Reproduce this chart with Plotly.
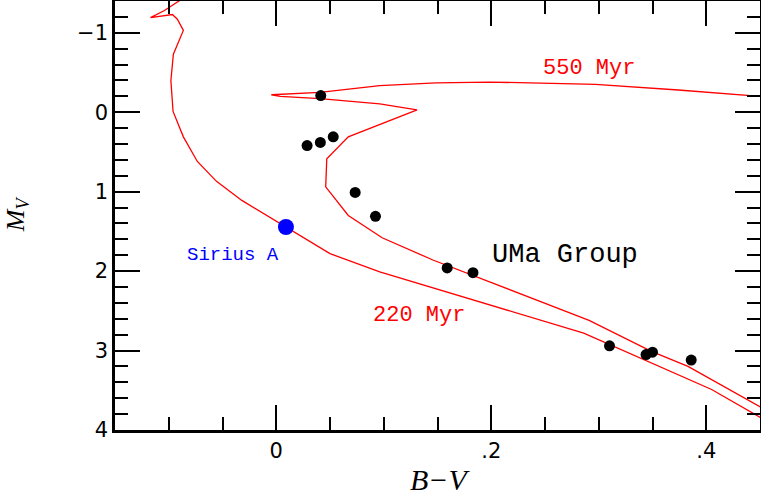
import plotly.graph_objects as go

# Isochrone 220 Myr (B-V, M_V)
iso220_bv = [0.455, 0.405, 0.286, 0.0963, 0.05, 0.009, -0.032, -0.0556, -0.0734, -0.0864,
             -0.096, -0.098, -0.0957, -0.0864, -0.092, -0.0966, -0.117, -0.104, -0.0905, -0.083]
iso220_mv = [3.88, 3.49, 2.78, 2.01, 1.78, 1.445, 1.11, 0.87, 0.62, 0.31,
             -0.01, -0.40, -0.73, -1.03, -1.17, -1.23, -1.19, -1.28, -1.40, -1.48]

# Isochrone 550 Myr
iso550_bv = [0.455, 0.383, 0.349, 0.291, 0.1457, 0.0985, 0.067, 0.056, 0.046, 0.047, 0.067,
             0.131, 0.0963, 0.0407, 0.0037, -0.0046, 0.0407, 0.0963, 0.1488, 0.198, 0.297,
             0.374, 0.449, 0.46]
iso550_mv = [3.745, 3.20, 3.01, 2.62, 1.86, 1.58, 1.30, 1.11, 0.94, 0.585, 0.31,
             -0.03, -0.105, -0.17, -0.20, -0.22, -0.25, -0.335, -0.37, -0.38, -0.35,
             -0.28, -0.20, -0.19]

# UMa Group members
uma_bv = [0.0414, 0.0287, 0.041, 0.053, 0.0734, 0.0923, 0.159, 0.183, 0.310, 0.344, 0.350, 0.386]
uma_mv = [-0.21, 0.42, 0.38, 0.31, 1.01, 1.31, 1.96, 2.02, 2.94, 3.05, 3.02, 3.12]

# Sirius A
sirius_bv = [0.009]
sirius_mv = [1.445]

x_tickvals = [0, 0.2, 0.4]
x_ticktext = ["0", ".2", ".4"]
y_tickvals = [-1, 0, 1, 2, 3, 4]
y_ticktext = ["\u22121", "0", "1", "2", "3", "4"]

red = "#ff0000"
mono = "Courier New, Liberation Mono, monospace"

fig = go.Figure()
fig.add_trace(go.Scatter(x=iso220_bv, y=iso220_mv, mode="lines",
                         line=dict(color=red, width=1.3), hoverinfo="skip"))
fig.add_trace(go.Scatter(x=iso550_bv, y=iso550_mv, mode="lines",
                         line=dict(color=red, width=1.3), hoverinfo="skip"))
fig.add_trace(go.Scatter(x=uma_bv, y=uma_mv, mode="markers",
                         marker=dict(color="black", size=11)))
fig.add_trace(go.Scatter(x=sirius_bv, y=sirius_mv, mode="markers",
                         marker=dict(color="#0000ff", size=16)))

axis_common = dict(showgrid=False, zeroline=False, showline=True, linecolor="black",
                   linewidth=2.5, ticks="inside", ticklen=25, tickwidth=2, tickcolor="black",
                   mirror="allticks", automargin=False,
                   tickfont=dict(family="DejaVu Sans", size=21, color="black"))

fig.update_xaxes(range=[-0.15, 0.45], tickvals=x_tickvals, ticktext=x_ticktext,
                 minor=dict(dtick=0.05, tick0=0, ticks="inside", ticklen=13, tickwidth=2,
                            tickcolor="black", showgrid=False),
                 **axis_common)
fig.update_yaxes(range=[4, -1.4], tickvals=y_tickvals, ticktext=y_ticktext,
                 minor=dict(dtick=0.2, tick0=0, ticks="inside", ticklen=13, tickwidth=2,
                            tickcolor="black", showgrid=False),
                 **axis_common)

annotations = [
    dict(x=0.291, y=-0.55, text="550 Myr", font=dict(family=mono, size=22, color=red)),
    dict(x=0.133, y=2.555, text="220 Myr", font=dict(family=mono, size=22, color=red)),
    dict(x=0.269, y=1.80, text="UMa Group", font=dict(family=mono, size=27, color="black")),
    dict(x=-0.040, y=1.80, text="Sirius A", font=dict(family=mono, size=19, color="#0000ff")),
]
for a in annotations:
    fig.add_annotation(xref="x", yref="y", showarrow=False, xanchor="center", yanchor="middle", **a)

fig.add_annotation(xref="paper", yref="paper", x=0.504, y=-0.116, showarrow=False,
                   text="<i>B\u2212V</i>", xanchor="center", yanchor="middle",
                   font=dict(family="Liberation Serif, serif", size=30, color="black"))
fig.add_annotation(xref="paper", yref="paper", x=-0.152, y=0.503, showarrow=False,
                   text="<i>M<sub>V</sub></i>", textangle=-90, xanchor="center", yanchor="middle",
                   font=dict(family="Liberation Serif, serif", size=26, color="black"))

fig.update_layout(width=761, height=495, margin=dict(l=115, r=1, t=1, b=65, autoexpand=False),
                  plot_bgcolor="white", paper_bgcolor="white", showlegend=False)

fig.write_html("out.html", config={"responsive": False, "displayModeBar": False},
               post_script="document.body.style.margin='0';document.body.style.overflow='hidden';")
